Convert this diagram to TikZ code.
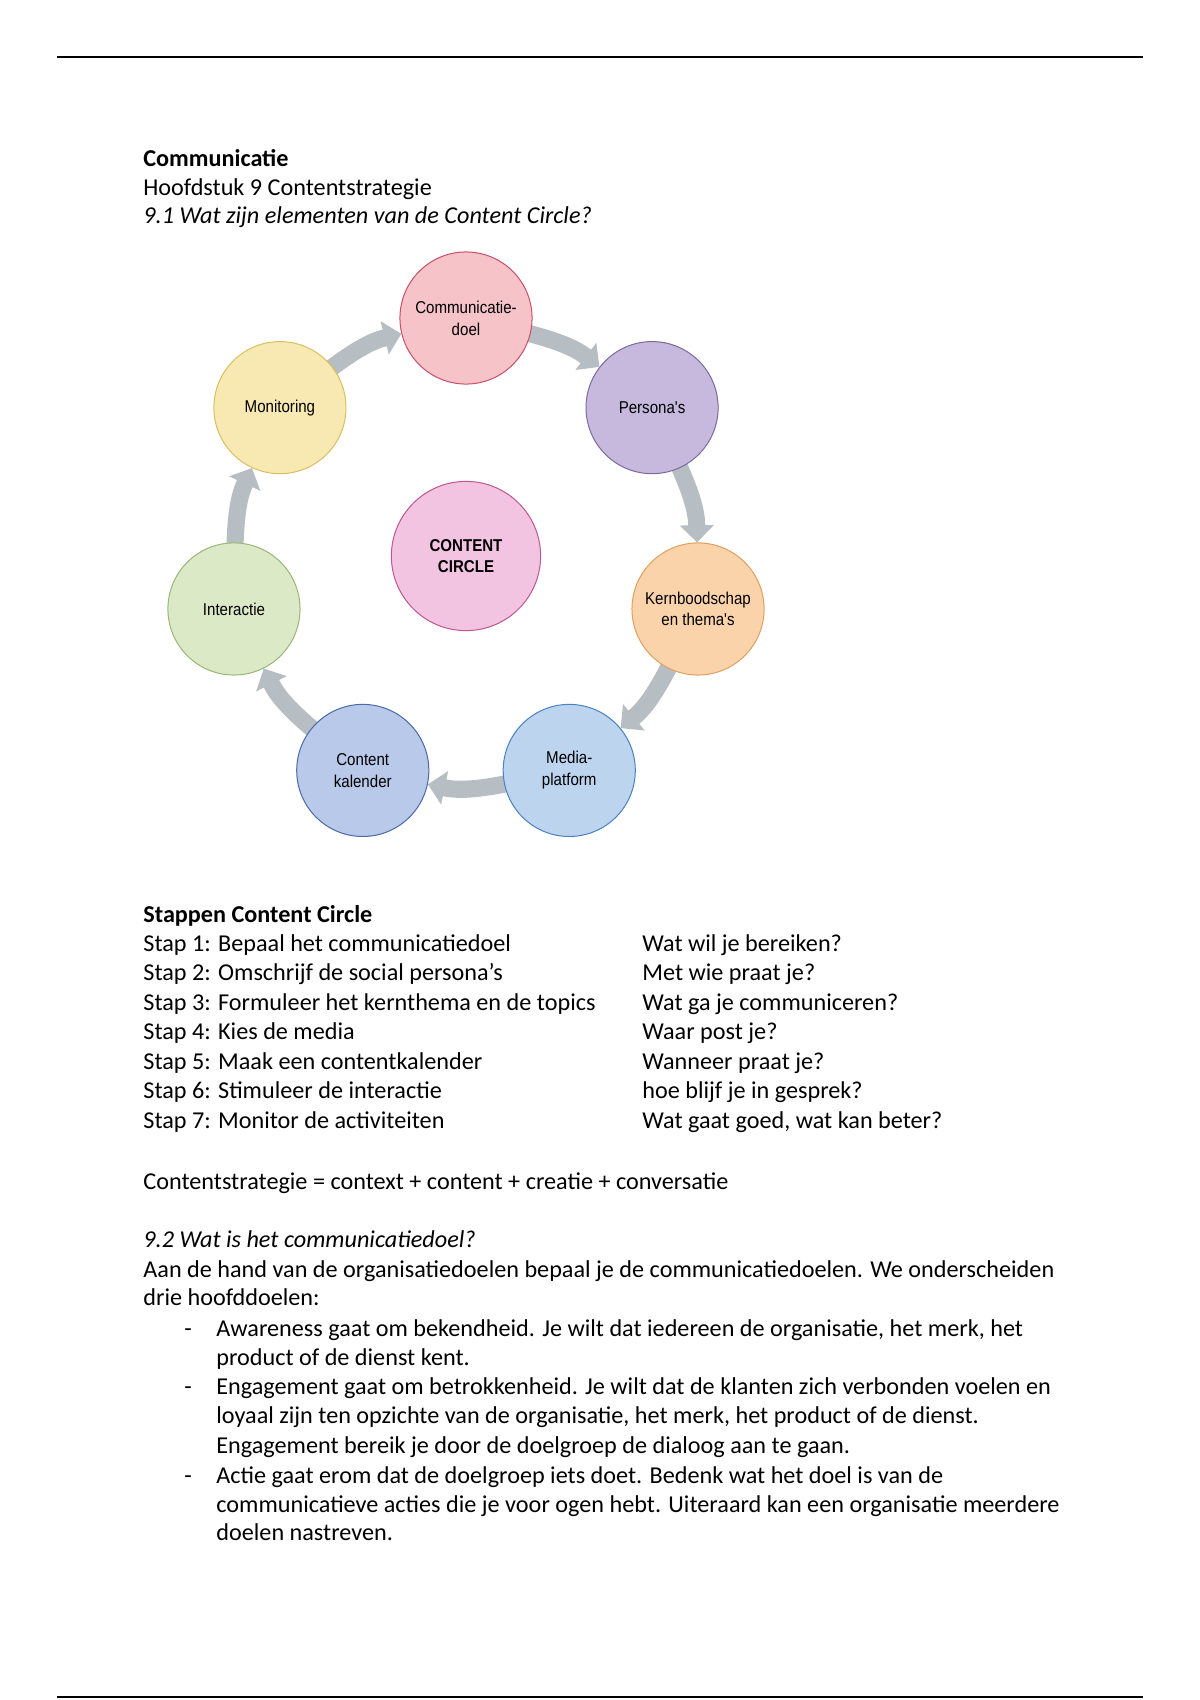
\documentclass[tikz,border=0pt]{standalone}
\usepackage{fontspec}
\setmainfont{Carlito}
\newfontfamily\circfont[FakeStretch=0.88]{Liberation Sans}
\usetikzlibrary{arrows.meta,positioning,calc,backgrounds}
\definecolor{flowgray}{HTML}{B7BEC3}
\definecolor{doelfill}{HTML}{F5C3C8}  \definecolor{doeldraw}{HTML}{C8506A}
\definecolor{persfill}{HTML}{C6B9DD}  \definecolor{persdraw}{HTML}{7D6A9E}
\definecolor{kernfill}{HTML}{FBD3AA}  \definecolor{kerndraw}{HTML}{E0A060}
\definecolor{mediafill}{HTML}{BDD4EF} \definecolor{mediadraw}{HTML}{4A82C0}
\definecolor{kalfill}{HTML}{B9C9E9}   \definecolor{kaldraw}{HTML}{4A6AA8}
\definecolor{interfill}{HTML}{DCE9C6} \definecolor{interdraw}{HTML}{99B878}
\definecolor{monfill}{HTML}{F8E9B2}   \definecolor{mondraw}{HTML}{D8C060}
\definecolor{ccfill}{HTML}{F3C4E2}    \definecolor{ccdraw}{HTML}{C05890}

\begin{document}
\begin{tikzpicture}[
      x=0.4958pt, y=0.4958pt,
      txt/.style  = {anchor=base west, inner sep=0pt,
                     font=\fontsize{12}{14.6}\selectfont},
      elem/.style = {circle, draw, line width=0.5pt, minimum size=65.5pt,
                     inner sep=0pt, align=center,
                     font=\circfont\fontsize{8.5}{10.8}\selectfont},
      flow/.style = {-{Triangle[width=16.5pt,length=8.5pt]}, line width=8.5pt,
                     draw=flowgray, shorten <=-6pt}
    ]
    \useasboundingbox (0,0) rectangle (1200,-1700);
    \draw[line width=1pt] (57,-57)   -- (1143,-57);
    \draw[line width=1pt] (57,-1697) -- (1143,-1697);

    % content circle
    \coordinate (ctr) at (466,-556);
    \node[elem, fill=doelfill,  draw=doeldraw]  (doel)  at ($(ctr)+(90:238)$)     {Communicatie-\\doel};
    \node[elem, fill=persfill,  draw=persdraw]  (pers)  at ($(ctr)+(38.57:238)$)  {Persona's};
    \node[elem, fill=kernfill,  draw=kerndraw]  (kern)  at ($(ctr)+(-12.86:238)$) {Kernboodschap\\en thema's};
    \node[elem, fill=mediafill, draw=mediadraw] (media) at ($(ctr)+(-64.29:238)$) {Media-\\platform};
    \node[elem, fill=kalfill,   draw=kaldraw]   (kal)   at ($(ctr)+(-115.71:238)$) {Content\\kalender};
    \node[elem, fill=interfill, draw=interdraw] (inter) at ($(ctr)+(192.86:238)$) {Interactie};
    \node[elem, fill=monfill,   draw=mondraw]   (mon)   at ($(ctr)+(141.43:238)$) {Monitoring};
    \node[elem, fill=ccfill, draw=ccdraw, minimum size=74pt,
          font=\circfont\bfseries\fontsize{8.5}{10.8}\selectfont] (cc) at (ctr) {CONTENT\\CIRCLE};

    \begin{scope}[on background layer]
      \draw[flow] (mon)   to[bend left=12] (doel);
      \draw[flow] (doel)  to[bend left=12] (pers);
      \draw[flow] (pers)  to[bend left=12] (kern);
      \draw[flow] (kern)  to[bend left=12] (media);
      \draw[flow] (media) to[bend left=12] (kal);
      \draw[flow] (kal)   to[bend left=12] (inter);
      \draw[flow] (inter) to[bend left=12] (mon);
    \end{scope}

    % header
    \node[txt] (title) at (143,-166) {\textbf{Communicatie}};
    \node[txt] (hfd)   at (143,-195) {Hoofdstuk 9 Contentstrategie};
    \node[txt] (q1)    at (143,-223) {\textit{9.1 Wat zijn elementen van de Content Circle?}};

    % stappen
    \node[txt] (stp)   at (143,-922)    {\textbf{Stappen Content Circle}};
    \node[txt] (s1)    at (143,-951)    {Stap 1: Bepaal het communicatiedoel};
    \node[txt] (s2)    at (143,-980.5)  {Stap 2: Omschrijf de social persona’s};
    \node[txt] (s3)    at (143,-1010)   {Stap 3: Formuleer het kernthema en de topics};
    \node[txt] (s4)    at (143,-1039.5) {Stap 4: Kies de media};
    \node[txt] (s5)    at (143,-1069)   {Stap 5: Maak een contentkalender};
    \node[txt] (s6)    at (143,-1098.5) {Stap 6: Stimuleer de interactie};
    \node[txt] (s7)    at (143,-1128)   {Stap 7: Monitor de activiteiten};
    \node[txt] (a1)    at (642,-951)    {Wat wil je bereiken?};
    \node[txt] (a2)    at (642,-980.5)  {Met wie praat je?};
    \node[txt] (a3)    at (642,-1010)   {Wat ga je communiceren?};
    \node[txt] (a4)    at (642,-1039.5) {Waar post je?};
    \node[txt] (a5)    at (642,-1069)   {Wanneer praat je?};
    \node[txt] (a6)    at (642,-1098.5) {hoe blijf je in gesprek?};
    \node[txt] (a7)    at (642,-1128)   {Wat gaat goed, wat kan beter?};

    \node[txt] (form)  at (143,-1189) {Contentstrategie = context + content + creatie + conversatie};

    % 9.2
    \node[txt] (q2)    at (143,-1247) {\textit{9.2 Wat is het communicatiedoel?}};
    \node[txt] (p1)    at (143,-1277) {Aan de hand van de organisatiedoelen bepaal je de communicatiedoelen. We onderscheiden};
    \node[txt] (p2)    at (143,-1305) {drie hoofddoelen:};
    \node[txt] (d1)    at (184,-1336) {-};
    \node[txt] (b1a)   at (216,-1336) {Awareness gaat om bekendheid. Je wilt dat iedereen de organisatie, het merk, het};
    \node[txt] (b1b)   at (216,-1365) {product of de dienst kent.};
    \node[txt] (d2)    at (184,-1394) {-};
    \node[txt] (b2a)   at (216,-1394) {Engagement gaat om betrokkenheid. Je wilt dat de klanten zich verbonden voelen en};
    \node[txt] (b2b)   at (216,-1423) {loyaal zijn ten opzichte van de organisatie, het merk, het product of de dienst.};
    \node[txt] (b2c)   at (216,-1453) {Engagement bereik je door de doelgroep de dialoog aan te gaan.};
    \node[txt] (d3)    at (184,-1483) {-};
    \node[txt] (b3a)   at (216,-1483) {Actie gaat erom dat de doelgroep iets doet. Bedenk wat het doel is van de};
    \node[txt] (b3b)   at (216,-1512) {communicatieve acties die je voor ogen hebt. Uiteraard kan een organisatie meerdere};
    \node[txt] (b3c)   at (216,-1540) {doelen nastreven.};
  \end{tikzpicture}
\end{document}
